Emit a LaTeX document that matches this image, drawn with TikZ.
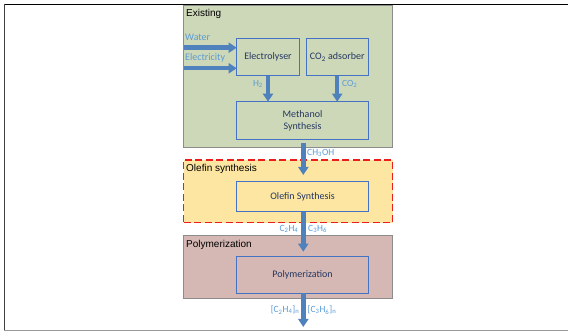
\documentclass[tikz,border=0pt]{standalone}
\usepackage{fontspec}
\setmainfont{Carlito}
\newfontfamily\arialf{Liberation Sans}
\usetikzlibrary{arrows.meta}
\definecolor{exfill}{RGB}{205,216,185}
\definecolor{olfill}{RGB}{252,230,162}
\definecolor{pofill}{RGB}{213,184,180}
\definecolor{framegray}{RGB}{140,140,140}
\definecolor{boxblue}{RGB}{68,114,196}
\definecolor{boxtext}{RGB}{36,54,96}
\definecolor{arrowblue}{RGB}{79,129,189}
\definecolor{lblblue}{RGB}{91,155,213}
\definecolor{dashred}{RGB}{235,30,30}
\begin{document}
\begin{tikzpicture}[x=1pt,y=-1pt,
  container/.style={draw=framegray, line width=0.8pt, minimum width=209pt, anchor=north west, inner sep=0pt, outer sep=0pt},
  proc/.style={draw=boxblue, line width=0.9pt, text=boxtext, font=\fontsize{10}{12}\selectfont, align=center, inner sep=0pt, outer sep=0pt},
  flow/.style={draw=arrowblue, line width=4.4pt, -{Triangle[width=10pt,length=8pt]}},
  lbl/.style={text=lblblue, font=\fontsize{9.5}{11}\selectfont, inner sep=0pt},
  inlbl/.style={text=lblblue, font=\fontsize{10}{12}\selectfont, inner sep=0pt, anchor=base west},
  ctitle/.style={font=\arialf\fontsize{10}{12}\selectfont, anchor=base west, inner sep=0pt}]
\useasboundingbox (0,0) rectangle (568,331);

% containers
\node[container, fill=exfill, minimum height=142.3pt] (exist) at (183.5,5) {};
\node[container, fill=olfill, draw=dashred, dash pattern=on 7pt off 3.5pt, line width=1.2pt, minimum height=62.7pt] (olefc) at (183.5,160) {};
\node[container, fill=pofill, minimum height=62.6pt] (polyc) at (183.5,235.7) {};

\node[ctitle] (texist) at (186,17) {Existing};
\node[ctitle] (tolef) at (186,172) {Olefin synthesis};
\node[ctitle] (tpoly) at (186,247.7) {Polymerization};

% process boxes
\node[proc, minimum width=62.6pt, minimum height=37.4pt] (elec) at (268,57) {Electrolyser};
\node[proc, minimum width=62.3pt, minimum height=37.4pt] (co2a) at (337.2,57) {CO\textsubscript{2} adsorber};
\node[proc, minimum width=131.6pt, minimum height=37.6pt] (meth) at (302.5,120.5) {Methanol\\Synthesis};
\node[proc, minimum width=131.8pt, minimum height=30pt] (olef) at (302.6,196.7) {Olefin Synthesis};
\node[proc, minimum width=131.6pt, minimum height=37.3pt] (poly) at (302.5,274.7) {Polymerization};

% inputs
\coordinate (win) at (183.5,47.7);
\coordinate (ein) at (183.5,68.3);
\draw[flow] (win) -- (win -| elec.west);
\draw[flow] (ein) -- (ein -| elec.west);
\node[inlbl] (lwater) at (185,41) {Water};
\node[inlbl] (lelec) at (185,61) {Electricity};

% internal flows
\draw[flow] (elec.south) -- (elec.south |- meth.north);
\draw[flow] (co2a.south) -- (co2a.south |- meth.north);
\node[lbl, anchor=east] (lh2) at (263,84) {H\textsubscript{2}};
\node[lbl, anchor=west] (lco2) at (342,84) {CO\textsubscript{2}};

\coordinate (olintip) at (303.3,175);
\draw[flow, shorten <=4pt] (meth.south -| olintip) -- (olintip);
\node[lbl, anchor=west] (lch3oh) at (307,153) {CH\textsubscript{3}OH};

\coordinate (polintip) at (303.3,251.7);
\draw[flow] (olef.south -| polintip) -- (polintip);
\node[lbl, anchor=east] (lc2h4) at (298.5,229) {C\textsubscript{2}H\textsubscript{4}};
\node[lbl, anchor=west] (lc3h6) at (308,229) {C\textsubscript{3}H\textsubscript{6}};

\coordinate (outtip) at (303.3,327);
\draw[flow] (poly.south -| outtip) -- (outtip);
\node[lbl, anchor=east] (lpe) at (299.5,310) {[C\textsubscript{2}H\textsubscript{4}]\textsubscript{n}};
\node[lbl, anchor=west] (lpp) at (307.5,310) {[C\textsubscript{3}H\textsubscript{6}]\textsubscript{n}};

% outer frame
\draw[black, line width=1pt] (4,4.5) -- (568,4.5);
\draw[black!75, line width=1.2pt] (4.5,4) -- (4.5,330.5);
\draw[black!40, line width=1pt] (4,330) -- (568,330);
\end{tikzpicture}
\end{document}
